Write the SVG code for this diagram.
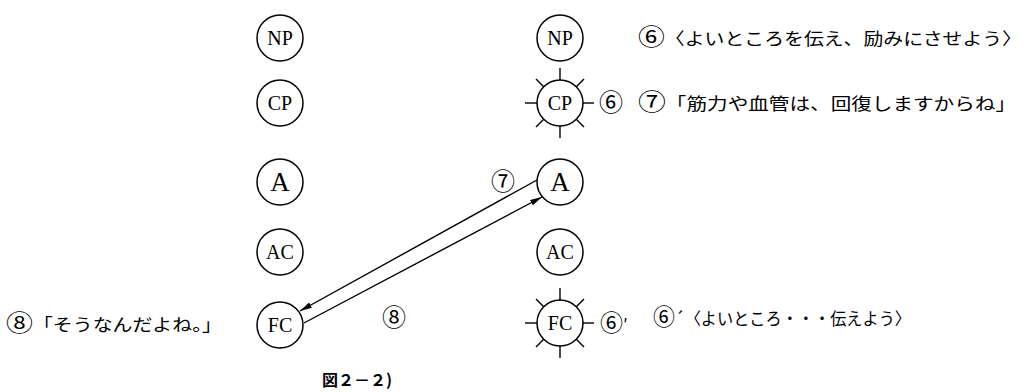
<svg xmlns="http://www.w3.org/2000/svg" width="1026" height="392" viewBox="0 0 1026 392">
<style>
.c{fill:#fff;stroke:#000;stroke-width:1.5}
.l{font-family:"Liberation Serif",serif;font-size:20px;fill:#000;text-anchor:middle}
.big{font-size:27px}
.r{stroke:#000;stroke-width:1.4}
.j{font-family:"Noto Sans CJK JP",sans-serif;font-size:17px;fill:#000}
.n{font-family:"Noto Sans CJK JP",sans-serif;font-size:24px;fill:#000;text-anchor:middle}
.d{font-family:"Noto Sans CJK JP",sans-serif;font-size:23px}
.e{stroke:#000;stroke-width:1.4;fill:none}
</style>
<defs>
<marker id="ah" viewBox="0 0 12 6" refX="12" refY="3" markerWidth="12" markerHeight="6" markerUnits="userSpaceOnUse" orient="auto">
<path d="M0,0 L12,3 L0,6 Z" fill="#000"/>
</marker>
<g id="rays">
<line class="r" x1="23" y1="0" x2="34" y2="0"/>
<line class="r" x1="-23" y1="0" x2="-35" y2="0"/>
<line class="r" x1="0" y1="23" x2="0" y2="35"/>
<line class="r" x1="0" y1="-23" x2="0" y2="-35"/>
<line class="r" x1="16.3" y1="16.3" x2="24" y2="24"/>
<line class="r" x1="-16.3" y1="16.3" x2="-24" y2="24"/>
<line class="r" x1="16.3" y1="-16.3" x2="24" y2="-24"/>
<line class="r" x1="-16.3" y1="-16.3" x2="-24" y2="-24"/>
</g>
</defs>
<rect width="1026" height="392" fill="#fff"/>

<g id="connectors">
<line class="e" x1="537" y1="180" x2="300" y2="311" marker-end="url(#ah)"/>
<line class="e" x1="304" y1="323" x2="542" y2="197" marker-end="url(#ah)"/>
<text class="n" x="503" y="190">⑦</text>
<text class="n" x="394" y="326">⑧</text>
</g>

<g id="left-NP"><circle class="c" cx="280" cy="38" r="23"/><text class="l" x="280" y="45">NP</text></g>
<g id="left-CP"><circle class="c" cx="280" cy="103" r="23"/><text class="l" x="280" y="110">CP</text></g>
<g id="left-A"><circle class="c" cx="280" cy="182" r="23"/><text class="l big" x="280" y="191">A</text></g>
<g id="left-AC"><circle class="c" cx="280" cy="252" r="23"/><text class="l" x="280" y="259">AC</text></g>
<g id="left-FC"><circle class="c" cx="280" cy="325" r="23"/><text class="l" x="280" y="332">FC</text></g>

<g id="right-NP"><circle class="c" cx="560" cy="38" r="23"/><text class="l" x="560" y="45">NP</text></g>
<g id="right-CP"><use href="#rays" x="560" y="103"/><circle class="c" cx="560" cy="103" r="23"/><text class="l" x="560" y="110">CP</text><text class="n" x="611" y="111">⑥</text></g>
<g id="right-A"><circle class="c" cx="560" cy="182" r="23"/><text class="l big" x="560" y="191">A</text></g>
<g id="right-AC"><circle class="c" cx="560" cy="252" r="23"/><text class="l" x="560" y="259">AC</text></g>
<g id="right-FC"><use href="#rays" x="560" y="323"/><circle class="c" cx="560" cy="323" r="23"/><text class="l" x="560" y="330">FC</text><text class="j" x="600" y="331"><tspan class="d">⑥</tspan>′</text></g>

<g id="texts">
<text class="j" x="638" y="45" textLength="384" lengthAdjust="spacingAndGlyphs"><tspan class="d">⑥</tspan>〈よいところを伝え、励みにさせよう〉</text>
<text class="j" x="638" y="110" textLength="378" lengthAdjust="spacingAndGlyphs"><tspan class="d">⑦</tspan>「筋力や血管は、回復しますからね」</text>
<text class="j" x="653" y="325" textLength="258" lengthAdjust="spacingAndGlyphs"><tspan class="d">⑥</tspan>´〈よいところ・・・伝えよう〉</text>
<text class="j" x="6" y="331" textLength="216" lengthAdjust="spacingAndGlyphs"><tspan class="d">⑧</tspan>「そうなんだよね。」</text>
<text class="j" x="322" y="386" style="font-size:16px;font-weight:bold">図２－２)</text>
</g>
</svg>
